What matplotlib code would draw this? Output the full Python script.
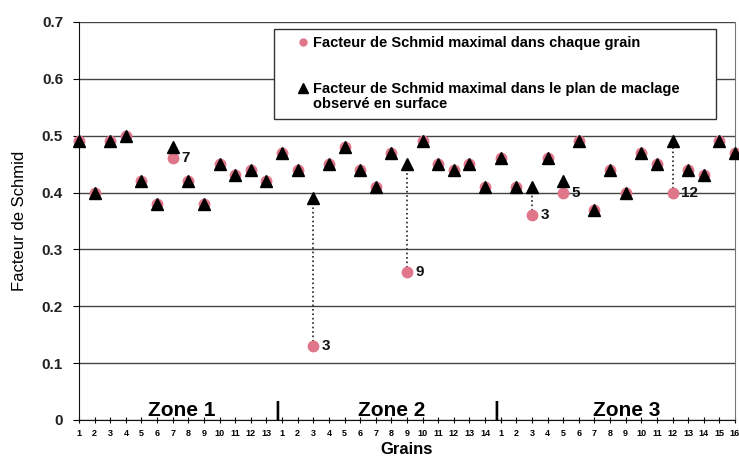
import numpy as np
import matplotlib.pyplot as plt
from matplotlib.patches import Rectangle

plt.rcParams['font.family'] = ['Liberation Sans', 'DejaVu Sans']

# Grains par zone
zone_sizes = [13, 14, 16]
zone_names = ['Zone 1', 'Zone 2', 'Zone 3']

# Facteur de Schmid maximal dans chaque grain
schmid_grain = [
    0.49, 0.40, 0.49, 0.50, 0.42, 0.38, 0.46, 0.42, 0.38, 0.45, 0.43, 0.44, 0.42,
    0.47, 0.44, 0.13, 0.45, 0.48, 0.44, 0.41, 0.47, 0.26, 0.49, 0.45, 0.44, 0.45, 0.41,
    0.46, 0.41, 0.36, 0.46, 0.40, 0.49, 0.37, 0.44, 0.40, 0.47, 0.45, 0.40, 0.44, 0.43, 0.49, 0.47,
]
# Facteur de Schmid maximal dans le plan de maclage observé
schmid_macle = [
    0.49, 0.40, 0.49, 0.50, 0.42, 0.38, 0.48, 0.42, 0.38, 0.45, 0.43, 0.44, 0.42,
    0.47, 0.44, 0.39, 0.45, 0.48, 0.44, 0.41, 0.47, 0.45, 0.49, 0.45, 0.44, 0.45, 0.41,
    0.46, 0.41, 0.41, 0.46, 0.42, 0.49, 0.37, 0.44, 0.40, 0.47, 0.45, 0.49, 0.44, 0.43, 0.49, 0.47,
]

tick_labels = [str(i + 1) for n in zone_sizes for i in range(n)]
x = np.arange(len(tick_labels))

pink = '#e0768a'

fig = plt.figure(figsize=(7.39, 4.57), dpi=100)
ax = fig.add_axes([0.1069, 0.081, 0.8877, 0.871])

ax.set_xlim(0, len(x) - 1)
ax.set_ylim(0, 0.7)
ax.set_yticks(np.arange(0, 0.71, 0.1))
ax.set_yticklabels(['0'] + ['%.1f' % v for v in np.arange(0.1, 0.71, 0.1)],
                   fontsize=11, fontweight='bold', color='#222222')
ax.yaxis.grid(True, color='#444444', lw=1.0)
ax.set_axisbelow(True)
ax.spines['top'].set_visible(False)
ax.spines['right'].set_color('#777777')
ax.spines['left'].set_color('#111111')
ax.spines['bottom'].set_color('#111111')

ax.set_xticks(x)
ax.set_xticklabels(tick_labels, fontsize=6.5, fontweight='bold')
ax.tick_params(axis='x', direction='inout', length=5, pad=4)
ax.tick_params(axis='y', direction='out', length=4.5, pad=7)

# lignes pointillées entre les deux valeurs quand elles diffèrent
for xi, g, m in zip(x, schmid_grain, schmid_macle):
    if abs(g - m) > 0.005:
        ax.plot([xi, xi], [g, m], ls=':', color='#222222', lw=1.2, zorder=2)
        ax.text(xi + 0.55, g, tick_labels[xi], fontsize=11, fontweight='bold',
                va='center', ha='left', color='#111111')

ax.plot(x, schmid_grain, 'o', color=pink, ms=7.5, mec=pink, zorder=3, clip_on=False)
ax.plot(x, schmid_macle, '^', color='black', ms=8, zorder=4, clip_on=False)

# noms des zones et séparateurs
starts = np.cumsum([0] + zone_sizes[:-1])
for s, n, name in zip(starts, zone_sizes, zone_names):
    ax.text(s + (n - 1) / 2 + 0.55, 0.007, name, fontsize=15, fontweight='bold',
            ha='center', va='baseline')
for s in starts[1:]:
    ax.text(s - 0.3, 0.007, '|', fontsize=15, fontweight='bold', ha='center', va='baseline')

# légende
tr = ax.transAxes
ax.add_patch(Rectangle((0.297, 0.756), 0.674, 0.226, transform=tr, fill=True,
                       facecolor='white', edgecolor='#333333', lw=1.0, zorder=5))
ax.plot([0.341], [0.950], 'o', color=pink, mec=pink, ms=5, transform=tr, zorder=6)
ax.plot([0.341], [0.834], '^', color='black', ms=6.5, transform=tr, zorder=6)
leg_kw = dict(transform=tr, fontsize=10.5, fontweight='bold', va='baseline', ha='left', zorder=6)
ax.text(0.357, 0.937, 'Facteur de Schmid maximal dans chaque grain', **leg_kw)
ax.text(0.357, 0.822, 'Facteur de Schmid maximal dans le plan de maclage', **leg_kw)
ax.text(0.357, 0.784, 'observé en surface', **leg_kw)

ax.set_ylabel('Facteur de Schmid', fontsize=12)
ax.yaxis.set_label_coords(-0.079, 0.5)
ax.set_xlabel('Grains', fontsize=12, fontweight='bold', labelpad=3)

fig.savefig('out.png', dpi=100)
